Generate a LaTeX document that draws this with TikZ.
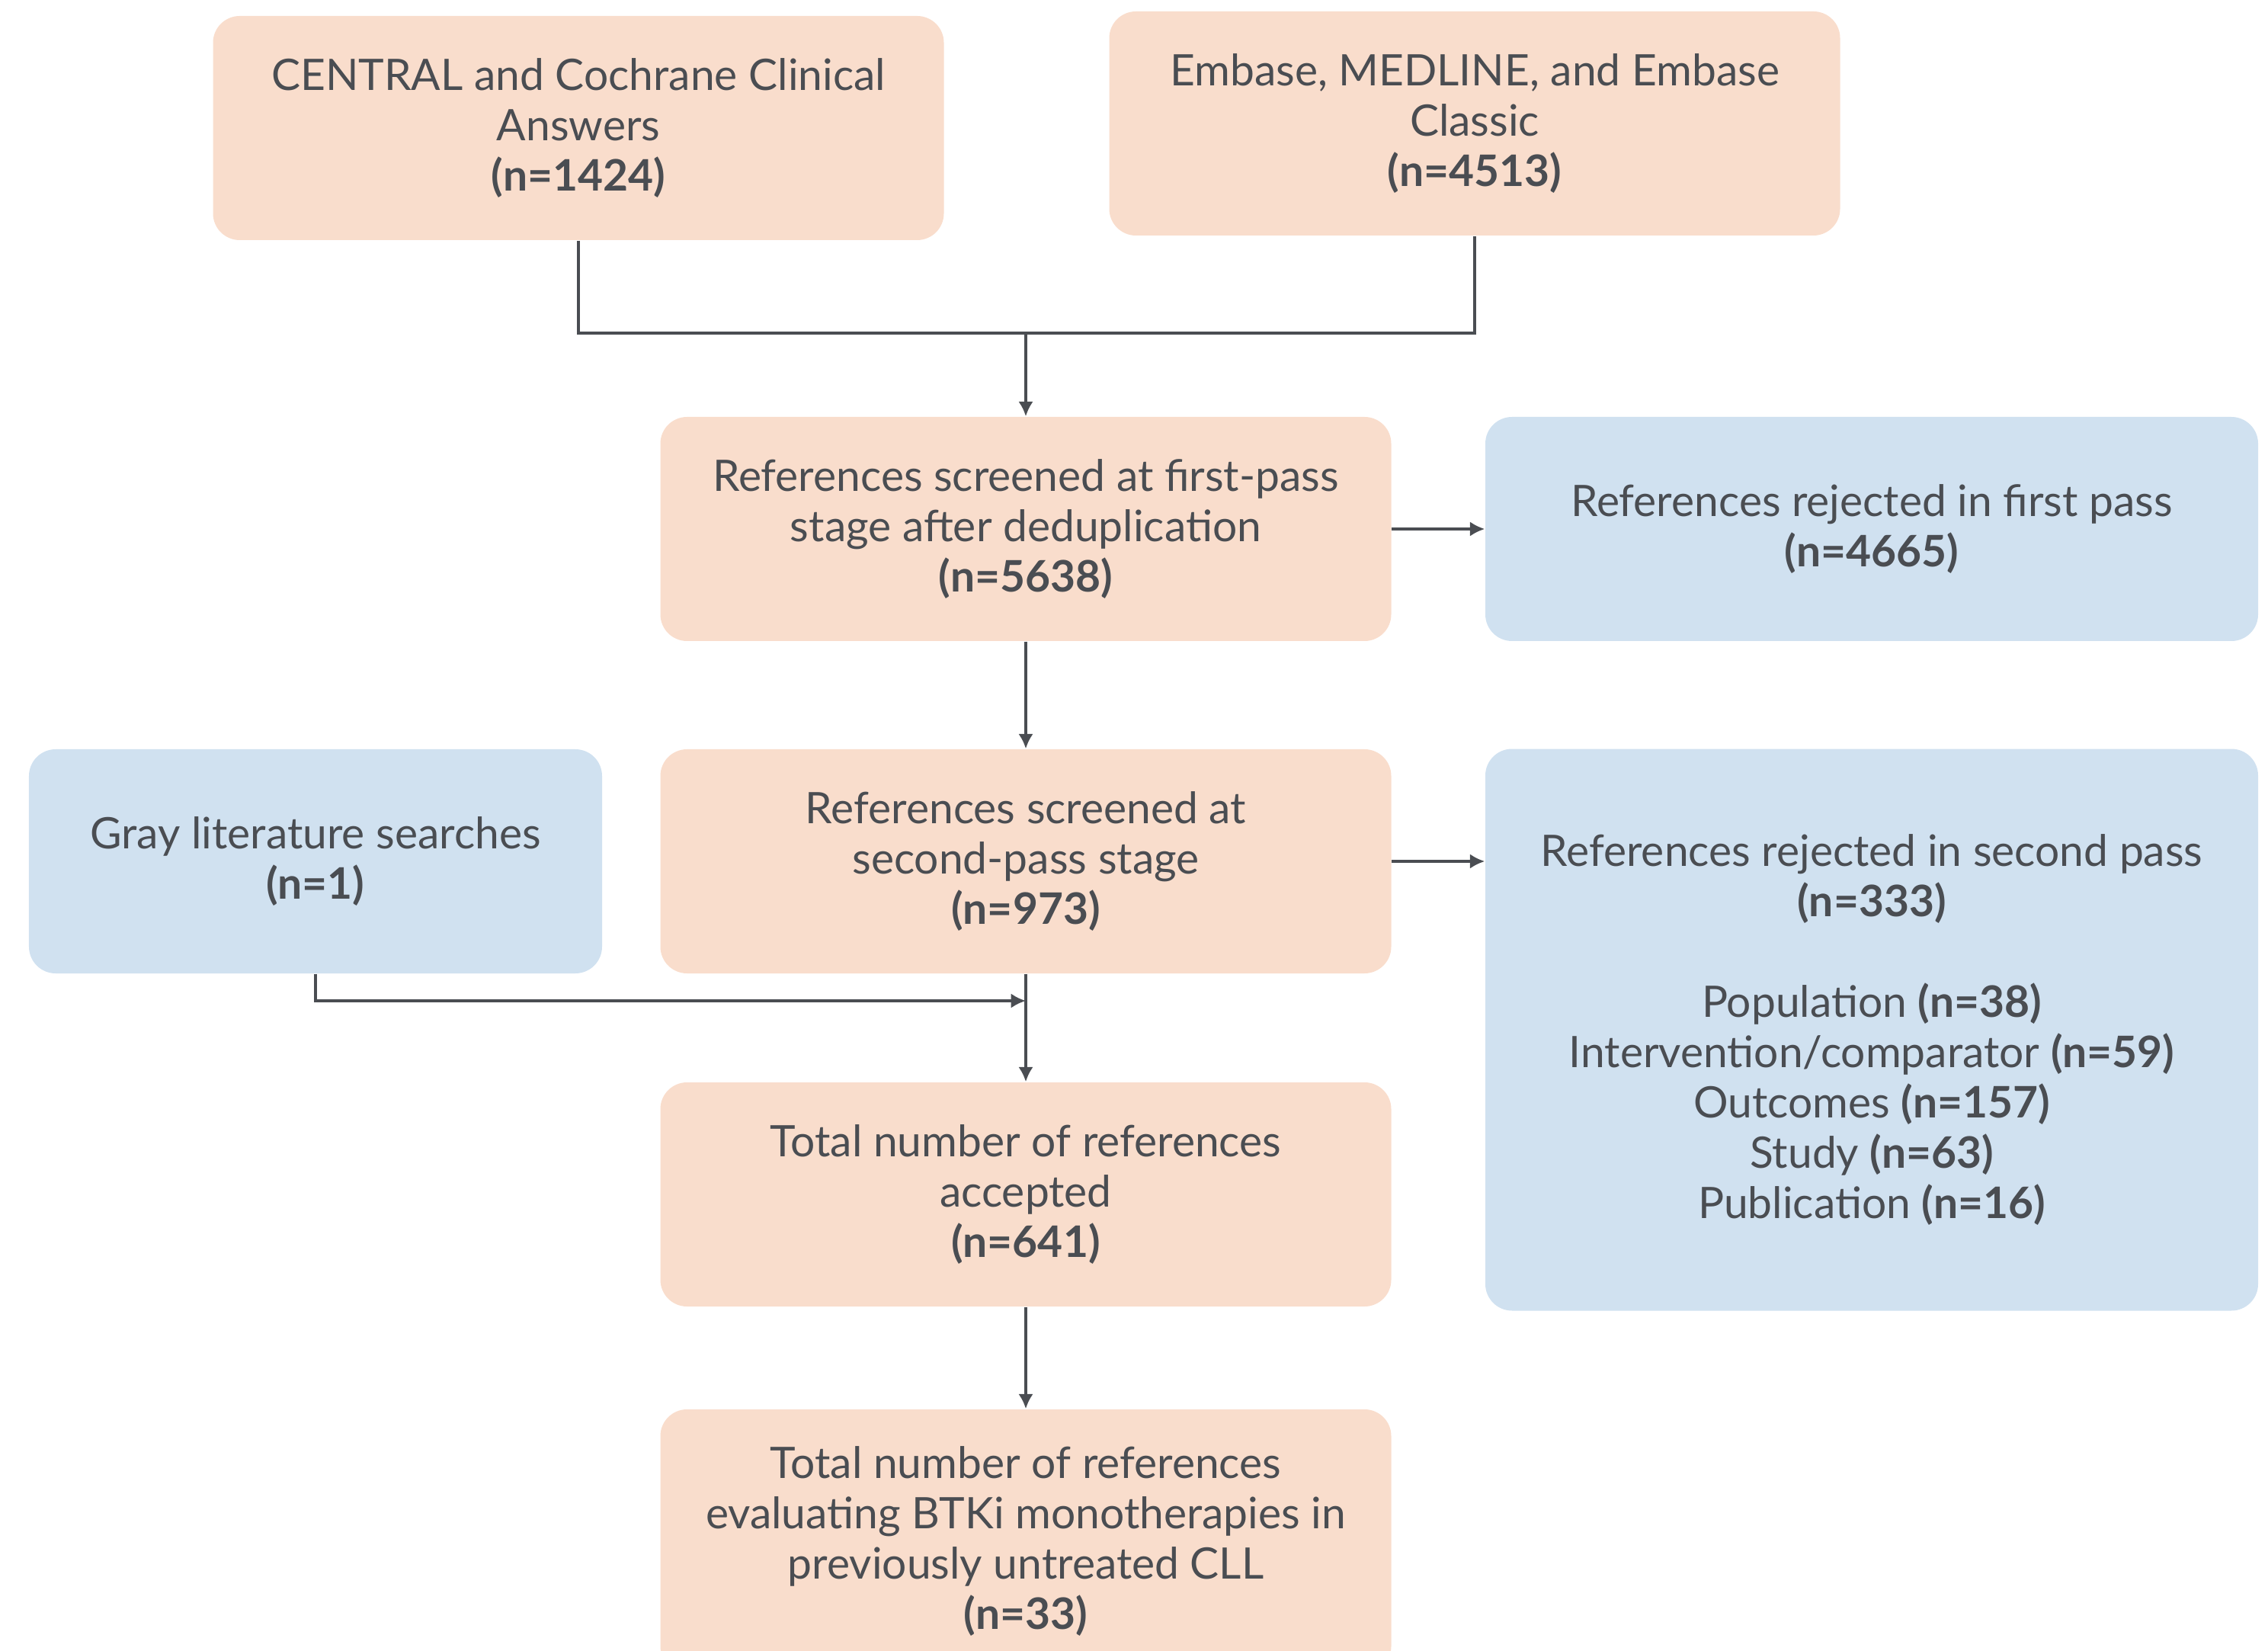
\documentclass[tikz,border=0pt]{standalone}
\usepackage{fontspec}
\setmainfont{Lato}
\usepackage{tikz}
\usetikzlibrary{arrows.meta}

\definecolor{peach}{HTML}{F9DDCC}
\definecolor{paleblue}{HTML}{D0E1F0}
\definecolor{ink}{HTML}{4A4D52}

\tikzset{
	box/.style={rounded corners=0.35cm, inner sep=0pt, align=center, text=ink,
		font=\fontsize{16.2}{18.8}\selectfont, minimum height=2.94cm},
	peachbox/.style={box, fill=peach, minimum width=9.59cm},
	bluebox/.style={box, fill=paleblue},
	link/.style={draw=ink, line width=1.1pt},
	arrow/.style={link, -{Latex[length=5.5pt,width=5.5pt]}}
}

\begin{document}
\begin{tikzpicture}[node distance=4.36cm]
				\path[use as bounding box, clip] (0,0) rectangle (29.76,-21.66);

				\node [peachbox] (central) at (7.59,-1.68) {CENTRAL and Cochrane Clinical\\Answers\\\textbf{(n=1424)}};
				\node [peachbox, right of=central, node distance=11.76cm, yshift=0.06cm] (embase) {Embase, MEDLINE, and Embase\\Classic\\\textbf{(n=4513)}};

				\node [peachbox] (first) at (13.46,-6.94) {References screened at first-pass\\stage after deduplication\\\textbf{(n=5638)}};
				\node [bluebox, minimum width=10.14cm, right of=first, node distance=11.10cm] (reject1) {References rejected in first pass\\\textbf{(n=4665)}};

				\node [peachbox, below of=first] (second) {References screened at\\second-pass stage\\\textbf{(n=973)}};
				\node [bluebox, minimum width=7.52cm, left of=second, node distance=9.32cm] (gray) {Gray literature searches\\\textbf{(n=1)}};
				\node [bluebox, minimum width=10.14cm, minimum height=7.37cm, right of=second, node distance=11.10cm, yshift=-2.21cm] (reject2) {References rejected in second pass\\\textbf{(n=333)}\\[18.8pt]Population \textbf{(n=38)}\\Intervention/comparator \textbf{(n=59)}\\Outcomes \textbf{(n=157)}\\Study \textbf{(n=63)}\\Publication \textbf{(n=16)}};

				\node [peachbox, below of=second, yshift=-0.01cm] (accepted) {Total number of references\\accepted\\\textbf{(n=641)}};
				\node [peachbox, minimum height=3.46cm, below of=accepted, node distance=4.55cm] (final) {Total number of references\\evaluating BTKi monotherapies in\\previously untreated CLL\\\textbf{(n=33)}};

				% merge of the two database searches
				\coordinate (merge) at (13.46,-4.37);
				\draw [link] (central.south) |- (merge) -| (embase.south);
				\draw [arrow] (merge) -- (first.north);

				\draw [arrow] (first.east) -- (reject1.west);
				\draw [arrow] (first.south) -- (second.north);
				\draw [arrow] (second.east) -- (second.east -| reject2.west);

				\coordinate (grayjoin) at (13.46,-13.13);
				\draw [arrow] (gray.south) |- (grayjoin);
				\draw [arrow] (second.south) -- (accepted.north);
				\draw [arrow] (accepted.south) -- (final.north);
			\end{tikzpicture}
\end{document}
